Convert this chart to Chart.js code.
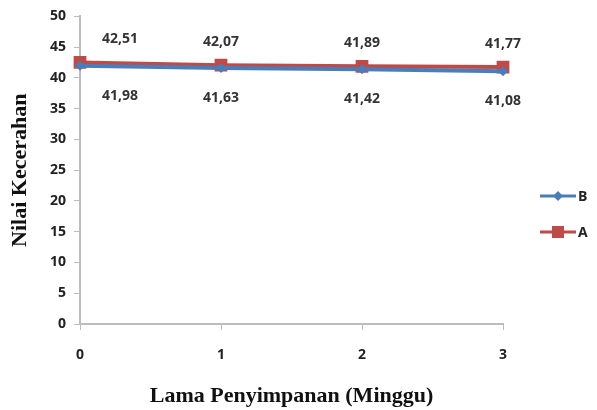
<!DOCTYPE html>
<html>
<head>
<meta charset="utf-8">
<script src="https://cdn.jsdelivr.net/npm/chart.js@4/dist/chart.umd.min.js"></script>
<style>
html,body{margin:0;padding:0;background:#fff;}
#wrap{width:597px;height:410px;position:relative;}
</style>
</head>
<body>
<div id="wrap"><canvas id="c" width="597" height="410"></canvas></div>
<script>
const categories = ['0', '1', '2', '3'];
const seriesB = [41.98, 41.63, 41.42, 41.08];
const seriesA = [42.51, 42.07, 41.89, 41.77];
const yTicks = [0, 5, 10, 15, 20, 25, 30, 35, 40, 45, 50];

const fmt = v => v.toFixed(2).replace('.', ',');
const sansFont = '"Open Sans", "DejaVu Sans", sans-serif';
const serifFont = '"Liberation Serif", "DejaVu Serif", serif';

const labelPlugin = {
  id: 'labels',
  afterDatasetsDraw(chart) {
    const ctx = chart.ctx;
    ctx.save();
    ctx.font = 'bold 14px ' + sansFont;
    ctx.fillStyle = '#333';
    ctx.textAlign = 'center';
    ctx.textBaseline = 'middle';
    chart.data.datasets.forEach((ds, di) => {
      const meta = chart.getDatasetMeta(di);
      meta.data.forEach((pt, i) => {
        const dx = i === 0 ? 40 : 0;
        const above = ds.label === 'A';
        const dy = above ? -23 : 30;
        ctx.fillText(fmt(ds.data[i]), pt.x + dx, pt.y + dy);
      });
    });
    ctx.restore();
  }
};

const legendPlugin = {
  id: 'customLegend',
  afterDraw(chart) {
    const ctx = chart.ctx;
    ctx.save();
    const items = [
      {label: 'B', color: '#4a7ebb', shape: 'diamond', y: 196},
      {label: 'A', color: '#be4b48', shape: 'square', y: 232}
    ];
    items.forEach(it => {
      ctx.strokeStyle = it.color;
      ctx.lineWidth = 3;
      ctx.beginPath();
      ctx.moveTo(540, it.y);
      ctx.lineTo(576, it.y);
      ctx.stroke();
      ctx.fillStyle = it.color;
      const cx = 558;
      if (it.shape === 'diamond') {
        ctx.beginPath();
        ctx.moveTo(cx, it.y - 5);
        ctx.lineTo(cx + 5, it.y);
        ctx.lineTo(cx, it.y + 5);
        ctx.lineTo(cx - 5, it.y);
        ctx.closePath();
        ctx.fill();
      } else {
        ctx.fillRect(cx - 6, it.y - 6, 12, 12);
      }
      ctx.fillStyle = '#222';
      ctx.font = 'bold 14px ' + sansFont;
      ctx.textAlign = 'left';
      ctx.textBaseline = 'middle';
      ctx.fillText(it.label, 578, it.y + 1);
    });
    ctx.restore();
  }
};

new Chart(document.getElementById('c'), {
  type: 'line',
  data: {
    labels: categories,
    datasets: [
      {
        label: 'B', data: seriesB,
        borderColor: '#4a7ebb', backgroundColor: '#4a7ebb',
        borderWidth: 4, pointStyle: 'rectRot', pointRadius: 5,
        pointBorderWidth: 0, tension: 0
      },
      {
        label: 'A', data: seriesA,
        borderColor: '#be4b48', backgroundColor: '#be4b48',
        borderWidth: 4, pointStyle: 'rect', pointRadius: 9,
        pointBorderWidth: 0, tension: 0
      }
    ]
  },
  options: {
    responsive: false,
    animation: false,
    layout: { padding: { left: 0, right: 94, top: 16, bottom: 0 } },
    plugins: { legend: { display: false }, tooltip: { enabled: false } },
    scales: {
      x: {
        offset: false,
        grid: { display: true, drawOnChartArea: false, tickLength: 6, color: '#bdbdbd' },
        border: { color: '#bdbdbd', width: 2 },
        ticks: { font: { size: 14, weight: 'bold', family: sansFont }, color: '#222', padding: 17 },
        title: { display: true, text: 'Lama Penyimpanan (Minggu)', font: { size: 22, weight: 'bold', family: serifFont }, color: '#111', padding: { top: 8, bottom: 0 } },
        afterFit(scale) { scale.height = 86; }
      },
      y: {
        min: 0, max: 50,
        afterBuildTicks(scale) { scale.ticks = yTicks.map(v => ({ value: v })); },
        grid: { display: true, drawOnChartArea: false, tickLength: 6, color: '#bdbdbd' },
        border: { color: '#bdbdbd', width: 2 },
        ticks: { font: { size: 14, weight: 'bold', family: sansFont }, color: '#222', padding: 8 },
        title: { display: true, text: 'Nilai Kecerahan', font: { size: 22, weight: 'bold', family: serifFont }, color: '#111', padding: { top: 7, bottom: 0 } },
        afterFit(scale) { scale.width = 80; }
      }
    }
  },
  plugins: [labelPlugin, legendPlugin]
});
</script>
</body>
</html>
